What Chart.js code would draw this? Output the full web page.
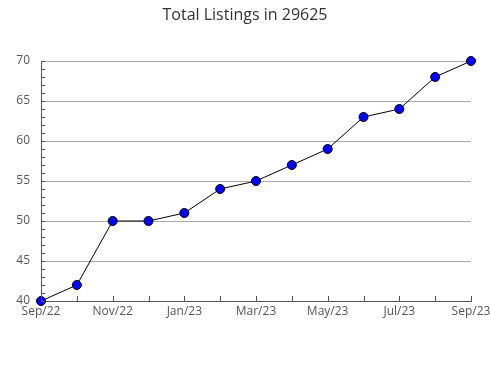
<!DOCTYPE html>
<html lang="en">
<head>
    <meta charset="UTF-8">
    <title>Total Listings in 29625</title>
    <style>
        body {
    margin: 0;
    padding: 0;
    background-color: #fff;
}

.chart-box {
    width: 490px;
    height: 380px;
}
    </style>
</head>
<body>
    <div class="chart-box">
        <canvas id="listingsChart" width="490" height="380"></canvas>
    </div>
    <script src="https://cdn.jsdelivr.net/npm/chart.js"></script>
    <script>
// Data
const months = ['Sep/22', 'Oct/22', 'Nov/22', 'Dec/22', 'Jan/23', 'Feb/23', 'Mar/23',
                'Apr/23', 'May/23', 'Jun/23', 'Jul/23', 'Aug/23', 'Sep/23'];
const listings = [40, 42, 50, 50, 51, 54, 55, 57, 59, 63, 64, 68, 70];
const yMin = 40;
const yMax = 70;
const yStep = 5;

const axisColor = '#555';
const fontFamily = "'Open Sans', 'Noto Sans', sans-serif";

// little tick marks drawn inward: every month on x, every unit on y
const innerTicks = {
    id: 'innerTicks',
    afterDatasetsDraw(chart) {
        const ctx = chart.ctx;
        const x = chart.scales.x;
        const y = chart.scales.y;
        ctx.save();
        ctx.strokeStyle = axisColor;
        ctx.lineWidth = 1;
        ctx.beginPath();
        months.forEach((m, i) => {
            const px = Math.round(x.getPixelForValue(i)) + 0.5;
            ctx.moveTo(px, y.bottom);
            ctx.lineTo(px, y.bottom - 5);
        });
        for (let v = yMin; v <= yMax; v++) {
            const py = Math.round(y.getPixelForValue(v)) + 0.5;
            ctx.moveTo(x.left, py);
            ctx.lineTo(x.left + 4, py);
        }
        ctx.stroke();
        ctx.restore();
    }
};

const ctx = document.getElementById('listingsChart').getContext('2d');
const chart = new Chart(ctx, {
    type: 'line',
    data: {
        labels: months,
        datasets: [{
            data: listings,
            borderColor: '#000',
            borderWidth: 1,
            backgroundColor: '#0000ff',
            pointBackgroundColor: '#0000ff',
            pointBorderColor: '#000',
            pointBorderWidth: 1,
            pointRadius: 4.5,
            tension: 0,
            fill: false,
            clip: false
        }]
    },
    options: {
        responsive: false,
        animation: false,
        layout: {
            padding: 0
        },
        plugins: {
            legend: { display: false },
            tooltip: { enabled: false },
            title: {
                display: true,
                text: 'Total Listings in 29625',
                color: '#333',
                font: { family: fontFamily, size: 16, weight: 'normal' },
                padding: { top: 6, bottom: 0 }
            }
        },
        scales: {
            x: {
                type: 'category',
                offset: false,
                grid: { display: false, drawTicks: false },
                border: { display: true, color: axisColor, width: 1 },
                ticks: {
                    color: axisColor,
                    font: { family: fontFamily, size: 12 },
                    padding: 3,
                    maxRotation: 0,
                    autoSkip: false,
                    callback: function(val, i) {
                        return i % 2 === 0 ? months[i] : '';
                    }
                },
                afterFit: function(s) {
                    s.height = 79;
                    s.paddingLeft = 0;
                    s.paddingRight = 19;
                }
            },
            y: {
                min: yMin,
                max: yMax,
                grid: {
                    color: '#aaa',
                    drawTicks: false
                },
                border: { display: true, color: axisColor, width: 1 },
                ticks: {
                    stepSize: yStep,
                    color: axisColor,
                    font: { family: fontFamily, size: 12 },
                    padding: 11
                },
                afterFit: function(s) { s.width = 41; }
            }
        }
    },
    plugins: [innerTicks]
});

// push the plot top down to match the reference
chart.options.plugins.title.padding.bottom = 61 - chart.chartArea.top + chart.options.plugins.title.padding.bottom;
chart.update();
    </script>
</body>
</html>
